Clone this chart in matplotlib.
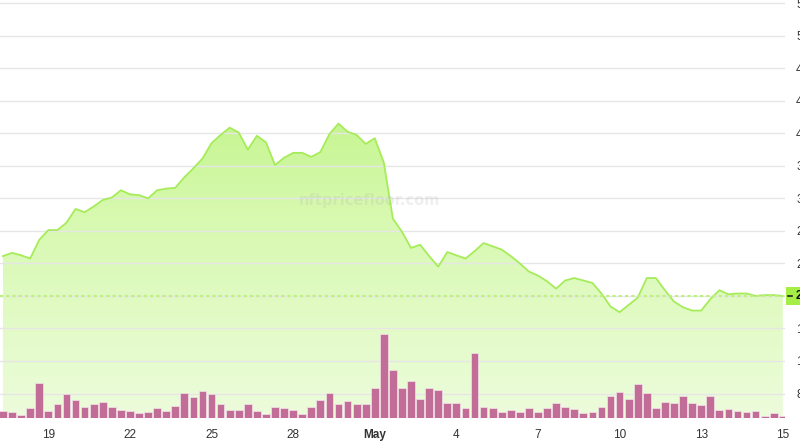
import numpy as np
import matplotlib.pyplot as plt
from matplotlib.colors import LinearSegmentedColormap
from matplotlib.lines import Line2D
from matplotlib.patches import Rectangle

# 8-hourly samples, starting 17 Apr 08:00 (day number = day of April, May 1 = 31)
start_day = 17 + 1 / 3

floor_price = [
    24.9, 25.3, 25.0, 24.6, 26.9, 28.1, 28.1, 29.0, 30.7, 30.3,
    31.0, 31.8, 32.1, 33.0, 32.5, 32.4, 32.0, 33.0, 33.2, 33.3,
    34.6, 35.7, 36.9, 38.8, 39.8, 40.7, 40.1, 38.0, 39.7, 38.9,
    36.1, 37.0, 37.6, 37.6, 37.1, 37.7, 39.9, 41.2, 40.2, 39.8,
    38.7, 39.4, 36.4, 29.5, 27.9, 25.9, 26.3, 24.9, 23.6, 25.4,
    25.0, 24.6, 25.5, 26.5, 26.1, 25.7, 24.9, 24.0, 23.0, 22.5,
    21.8, 20.9, 21.9, 22.2, 21.9, 21.6, 20.3, 18.7, 18.0, 18.9,
    19.8, 22.2, 22.2, 20.7, 19.3, 18.6, 18.2, 18.2, 19.6, 20.7,
    20.2, 20.3, 20.3, 20.0, 20.1, 20.1, 20.0,
]

volume = [
    22, 19, 11, 30, 105, 21, 44, 74, 54, 35,
    43, 49, 33, 25, 21, 16, 19, 30, 21, 38,
    76, 64, 83, 72, 44, 24, 25, 42, 21, 14,
    35, 30, 24, 12, 35, 55, 76, 44, 52, 44,
    44, 90, 252, 145, 90, 112, 57, 92, 84, 45,
    45, 30, 195, 35, 32, 20, 25, 18, 30, 18,
    32, 45, 34, 28, 16, 20, 35, 68, 78, 58,
    102, 75, 30, 50, 45, 67, 45, 41, 68, 26,
    27, 22, 18, 22, 7, 15, 7,
]

current_price = 20.0
price_ticks = list(range(8, 57, 4))
x_tick_days = [19, 22, 25, 28, 31, 34, 37, 40, 43, 46]
x_tick_labels = ["19", "22", "25", "28", "May", "4", "7", "10", "13", "15"]

days = start_day + np.arange(len(floor_price)) / 3

plt.rcParams['font.family'] = ['Liberation Sans', 'DejaVu Sans']

fig = plt.figure(figsize=(8, 4.45), dpi=100)
ax = fig.add_axes([0, 1 - 418.3 / 445, 785 / 800, 418.3 / 445])
vax = ax.twinx()

ax.set_xlim(17.224, 46.08)
ax.set_ylim(4.95, 56.4)

# gridlines and right-hand price axis
ax.yaxis.tick_right()
ax.set_yticks(price_ticks)
ax.set_yticklabels([str(t) if t != 20 else "" for t in price_ticks])
ax.grid(axis='y', color='#e6e6e6', linewidth=1, zorder=0)
ax.tick_params(axis='y', length=0, pad=8, labelsize=8.5, labelcolor='#333333')
ax.tick_params(axis='x', length=0, pad=8, labelsize=8.5, labelcolor='#333333')
ax.set_xticks(x_tick_days)
ax.set_xticklabels(x_tick_labels)
for lbl in ax.get_xticklabels():
    if lbl.get_text() == "May":
        lbl.set_fontweight('bold')
for s in ax.spines.values():
    s.set_visible(False)

# gradient area under the floor price
cmap = LinearSegmentedColormap.from_list('g', ['#ecfcd9', '#d3f9a8', '#abf05c'])
grad = np.linspace(0, 1, 256).reshape(-1, 1)
img = ax.imshow(grad, extent=[17.224, 46.08, 4.95, 56.4], origin='lower',
                aspect='auto', cmap=cmap, alpha=0.93, zorder=1)
poly = ax.fill_between(days, floor_price, 4.95, color='none', lw=0)
img.set_clip_path(poly.get_paths()[0], transform=ax.transData)
ax.plot(days, floor_price, color='#a6ec5a', lw=1.3, zorder=2)

ax.axhline(current_price, color='#bdf07c', lw=1.5, ls=(0, (1.5, 1.5)), zorder=2)

ax.text(0.47, 0.52, "nftpricefloor.com", transform=ax.transAxes, ha='center',
        va='center', fontsize=10.5, fontweight='bold', color='#b0b0b0',
        alpha=0.2, family='DejaVu Sans', zorder=5)

# current price label: green box on the right edge with a small dash
ytr = ax.get_yaxis_transform()
box_h = 18 / 418.3 * (56.4 - 4.95)
ax.add_patch(Rectangle((1.0 + 1 / 785, current_price - box_h / 2), 20 / 785, box_h,
                       transform=ytr, facecolor='#a4ee45', edgecolor='none',
                       clip_on=False, zorder=6))
ax.add_line(Line2D([1.0 + 3 / 785, 1.0 + 7 / 785], [current_price, current_price],
                   transform=ytr, color='#222222', lw=1.2, clip_on=False, zorder=7))
ax.text(1.0 + 11 / 785, current_price, "20", transform=ytr, ha='left', va='center',
        fontsize=8.5, fontweight='bold', color='#111111', zorder=7, clip_on=False)

# volume bars
vax.set_ylim(0, 418.3 * 3)
vax.bar(days, volume, width=0.285, color='#c26c98', edgecolor='#f3e2ea',
        linewidth=0.5, zorder=3)
vax.set_yticks([])
vax.patch.set_visible(False)
for s in vax.spines.values():
    s.set_visible(False)

fig.savefig('out.png', dpi=100)
